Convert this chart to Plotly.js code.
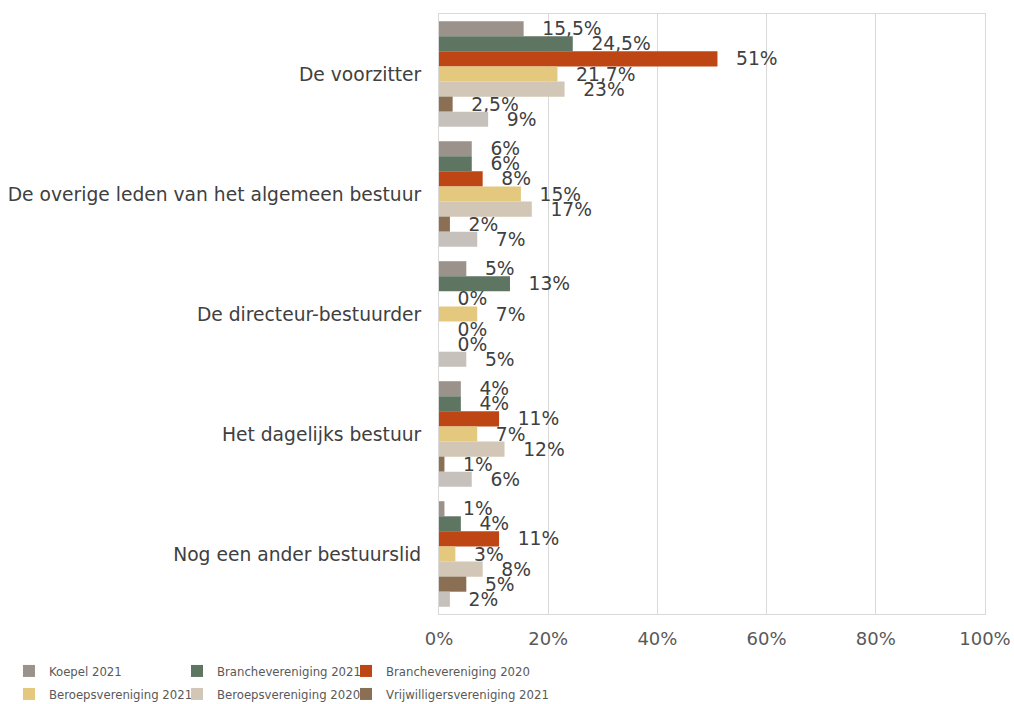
<!DOCTYPE html>
<html><head><meta charset="utf-8">
<script src="https://cdn.plot.ly/plotly-3.0.1.min.js"></script>
<style>
html,body{margin:0;padding:0;background:#fff}#chart{width:1014px;height:704px}
</style>
</head><body><div id="chart"></div>
<script>
const categories = ["De voorzitter", "De overige leden van het algemeen bestuur", "De directeur-bestuurder", "Het dagelijks bestuur", "Nog een ander bestuurslid"];
const seriesNames = ["Koepel 2021", "Branchevereniging 2021", "Branchevereniging 2020", "Beroepsvereniging 2021", "Beroepsvereniging 2020", "Vrijwilligersvereniging 2021", "Vrijwilligersvereniging 2020"];
const koepel2021 = [15.5, 6, 5, 4, 1];
const branche2021 = [24.5, 6, 13, 4, 4];
const branche2020 = [51, 8, 0, 11, 11];
const beroeps2021 = [21.7, 15, 7, 7, 3];
const beroeps2020 = [23, 17, 0, 12, 8];
const vrijw2021 = [2.5, 2, 0, 1, 5];
const vrijw2020 = [9, 7, 5, 6, 2];
const xTicks = [0, 20, 40, 60, 80, 100];
const xTickLabels = ["0%", "20%", "40%", "60%", "80%", "100%"];

const colors = ["#9b928b", "#5e7562", "#be4614", "#e3c87e", "#d2c6b6", "#8b6f55", "#c7c1bc"];
const allSeries = [koepel2021, branche2021, branche2020, beroeps2021, beroeps2020, vrijw2021, vrijw2020];
const legendIds = ["legend", "legend2", "legend3", "legend4", "legend5", "legend6", "legend"];

const fmt = v => "\u00a0\u00a0\u2009" + String(v).replace(".", ",") + "%";

const traces = allSeries.map((vals, i) => ({
  type: "bar", orientation: "h", name: seriesNames[i],
  y: categories, x: vals,
  marker: {color: colors[i]},
  text: vals.map(fmt), textposition: "outside", constraintext: "none", cliponaxis: false,
  textfont: {family: "DejaVu Sans", size: 18.7, color: "#404040"},
  legend: legendIds[i], showlegend: i < 6, hoverinfo: "skip"
}));

const legendBase = {
  orientation: "h", xref: "container", yref: "container", xanchor: "left", yanchor: "middle",
  bgcolor: "rgba(0,0,0,0)",
  font: {family: "DejaVu Sans Condensed, DejaVu Sans, sans-serif", size: 13, color: "#595959"},
  itemclick: false, itemdoubleclick: false
};
const colX = [9 / 1014, 177 / 1014, 346 / 1014];
const rowY = [33 / 704, 10 / 704];
const mkLegend = (c, r) => Object.assign({}, legendBase, {x: colX[c], y: rowY[r]});

const layout = {
  width: 1014, height: 704,
  margin: {l: 439, r: 29, t: 14, b: 90},
  paper_bgcolor: "#fff", plot_bgcolor: "#fff",
  barmode: "group", bargap: 0.12, bargroupgap: 0,
  font: {family: "DejaVu Sans", color: "#404040"},
  xaxis: {range: [0, 100], tickvals: xTicks, ticktext: xTickLabels, showgrid: true, gridcolor: "#d9d9d9",
    zeroline: false, showline: true, mirror: true, linecolor: "#d9d9d9", linewidth: 1, ticks: "",
    tickfont: {family: "DejaVu Sans", size: 18, color: "#595959"}, ticklabelstandoff: 8, fixedrange: true},
  yaxis: {autorange: "reversed", showline: true, mirror: true, linecolor: "#d9d9d9", ticks: "",
    tickfont: {family: "DejaVu Sans", size: 18.7, color: "#404040"}, ticklabelstandoff: 13, fixedrange: true},
  legend: mkLegend(0, 0),
  legend2: mkLegend(1, 0),
  legend3: mkLegend(2, 0),
  legend4: mkLegend(0, 1),
  legend5: mkLegend(1, 1),
  legend6: mkLegend(2, 1),
  showlegend: true
};

Plotly.newPlot("chart", traces, layout, {displayModeBar: false, staticPlot: true});
</script></body></html>
